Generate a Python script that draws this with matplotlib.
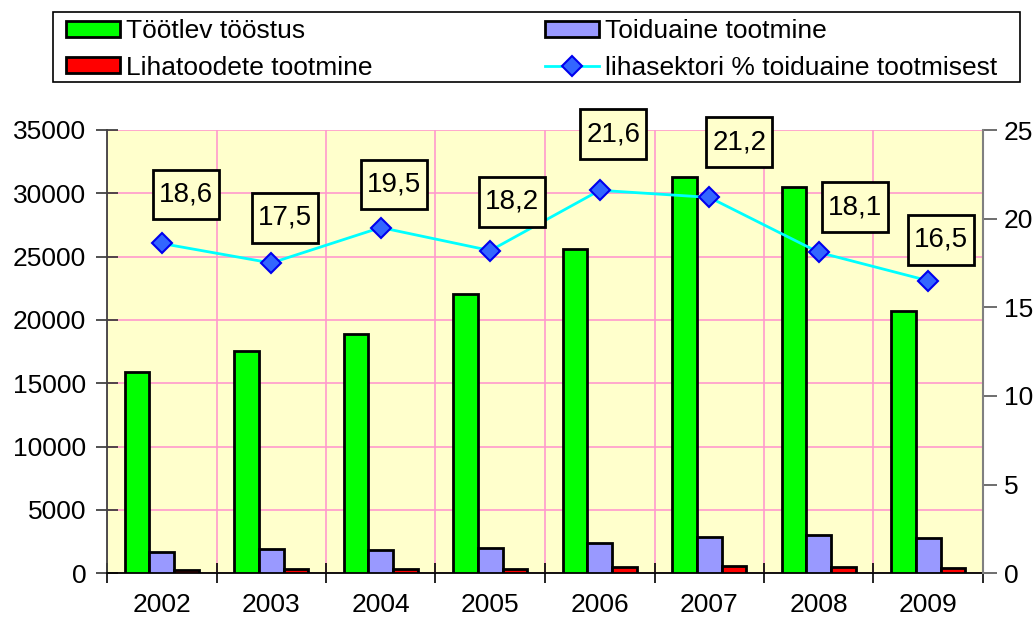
import matplotlib
matplotlib.use("Agg")
import matplotlib.pyplot as plt
import numpy as np
from matplotlib.patches import Patch, Rectangle
from matplotlib.lines import Line2D
from matplotlib.path import Path

plt.rcParams['font.family'] = ['Liberation Sans', 'DejaVu Sans']

years = ["2002", "2003", "2004", "2005", "2006", "2007", "2008", "2009"]
tootlev = [15900, 17550, 18900, 22050, 25600, 31300, 30500, 20700]
toiduaine = [1700, 1900, 1820, 1980, 2370, 2840, 3000, 2760]
lihatoodete = [280, 320, 340, 360, 470, 580, 520, 420]
liha_pct = [18.6, 17.5, 19.5, 18.2, 21.6, 21.2, 18.1, 16.5]

names = ["Töötlev tööstus", "Toiduaine tootmine", "Lihatoodete tootmine",
         "lihasektori % toiduaine tootmisest"]

# label offsets in pixels (dx, dy) relative to each point
label_offsets = [(24, 49), (13.5, 45), (13, 43), (21.5, 49), (13.5, 56), (30, 55), (36.5, 45), (12.5, 41)]

FS = 19
FS_LABEL = 20
W, H = 1035, 623


def label_box(x0, y0, width, height, mutation_size):
    px = 0.22 * mutation_size
    py = 0.43 * mutation_size
    x0, y0 = x0 - px, y0 - py
    x1, y1 = x0 + width + 2 * px, y0 + height + 2 * py
    return Path([(x0, y0), (x1, y0), (x1, y1), (x0, y1), (x0, y0)],
                [Path.MOVETO, Path.LINETO, Path.LINETO, Path.LINETO, Path.CLOSEPOLY])


fig = plt.figure(figsize=(W / 100, H / 100), dpi=100)
ax = fig.add_axes([107 / W, 1 - 573.3 / H, (983 - 107) / W, (573.3 - 130) / H])
ax.set_facecolor("#FFFFCC")

x = np.arange(len(years))
bw = 0.224
ax.bar(x - bw, tootlev, bw, color="#00FF00", edgecolor="black", linewidth=2, zorder=3)
ax.bar(x, toiduaine, bw, color="#9999FF", edgecolor="black", linewidth=2, zorder=3)
ax.bar(x + bw, lihatoodete, bw, color="#FF0000", edgecolor="black", linewidth=2, zorder=3)

ax.set_xlim(-0.5, len(years) - 0.5)
ax.set_ylim(0, 35000)
ax.set_yticks(np.arange(0, 35001, 5000))
ax.set_xticks(np.arange(-0.5, len(years), 1.0))
ax.set_xticklabels([])
ax.set_xticks(x, minor=True)
ax.set_xticklabels(years, minor=True)
ax.tick_params(axis='x', which='minor', length=0, pad=14, labelsize=FS)
ax.tick_params(axis='x', which='major', direction='inout', length=14, width=1.2, color='black')
ax.tick_params(axis='y', direction='inout', length=16, width=1.2, pad=7, labelsize=FS, color='#333333')
ax.grid(True, which='major', color='#FF99CC', linewidth=1.2, zorder=0)
ax.set_axisbelow(True)
ax.spines['top'].set_visible(False)
ax.spines['left'].set_color('#404040')
ax.spines['bottom'].set_color('black')
ax.spines['right'].set_visible(False)
for s in ('left', 'bottom'):
    ax.spines[s].set_linewidth(1.3)

ax2 = ax.twinx()
ax2.set_ylim(0, 25)
ax2.set_yticks(np.arange(0, 26, 5))
ax2.tick_params(axis='y', direction='out', length=10, width=1.2, pad=5, labelsize=FS, color='#555555')
ax2.spines['right'].set_color('#808080')
ax2.spines['right'].set_linewidth(1.5)
for s in ('top', 'left', 'bottom'):
    ax2.spines[s].set_visible(False)
ax2.plot(x, liha_pct, color="#00FFFF", linewidth=2, marker="D", markersize=10,
         markerfacecolor="#3366FF", markeredgecolor="#0000EE", markeredgewidth=1.5, zorder=5)
for xi, v, (dx, dy) in zip(x, liha_pct, label_offsets):
    ax2.annotate(f"{v:.1f}".replace(".", ","), (xi, v), xytext=(dx, dy), textcoords='offset pixels',
                 ha='center', va='center', fontsize=FS_LABEL,
                 bbox=dict(boxstyle=label_box, facecolor="#FFFFCC", edgecolor='black', linewidth=2),
                 zorder=6)

handles = [Patch(facecolor="#00FF00", edgecolor="black", linewidth=2),
           Patch(facecolor="#FF0000", edgecolor="black", linewidth=2),
           Patch(facecolor="#9999FF", edgecolor="black", linewidth=2),
           Line2D([], [], color="#00FFFF", linewidth=2, marker="D", markersize=10,
                  markerfacecolor="#3366FF", markeredgecolor="#0000EE", markeredgewidth=1.5)]
labels = [names[0], names[2], names[1], names[3]]
leg = fig.legend(handles, labels, ncol=2, loc='upper left',
                 bbox_to_anchor=(66 / W, 1 - 19 / H),
                 fontsize=FS, frameon=False,
                 handlelength=2.05, handleheight=0.55, handletextpad=0.22,
                 labelspacing=0.48, borderpad=0, borderaxespad=0, columnspacing=6.53)
fig.patches.append(Rectangle((53 / W, 1 - 82 / H), (1020 - 53) / W, 70 / H,
                             transform=fig.transFigure, fill=False, edgecolor='black', linewidth=1.2))

fig.savefig("out.png", dpi=100)
